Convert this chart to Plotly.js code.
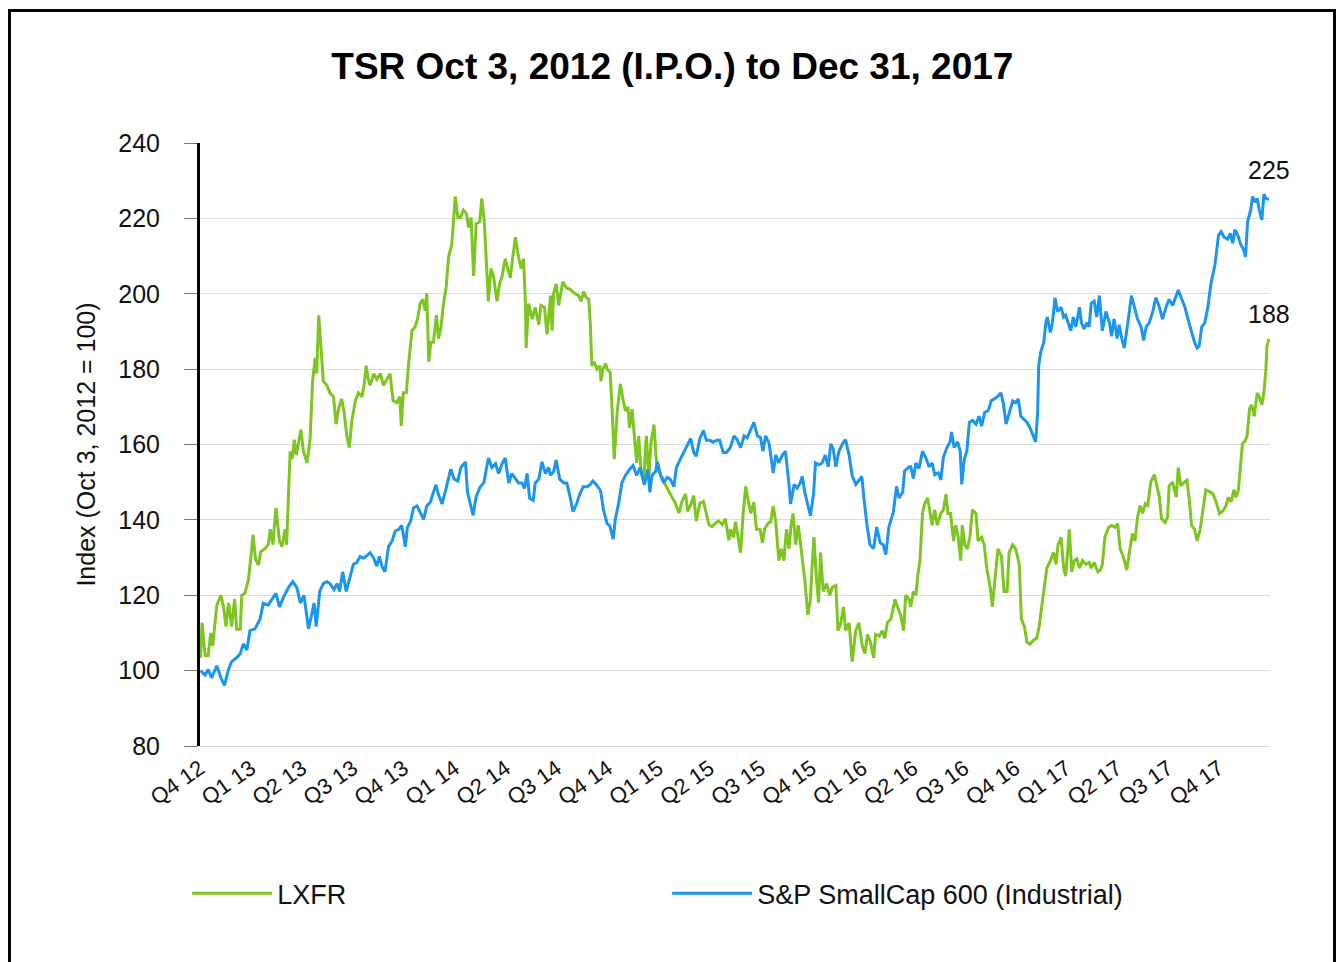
<!DOCTYPE html>
<html>
<head>
<meta charset="utf-8">
<script src="https://cdn.plot.ly/plotly-3.0.1.min.js"></script>
<style>
  html, body { margin: 0; padding: 0; background: #fff; overflow: hidden; }
  #chart { width: 1338px; height: 962px; }
  #frame { position: absolute; left: 8px; top: 9px; width: 1322px; height: 1000px;
           border: 3px solid #000; pointer-events: none; box-sizing: content-box; }
</style>
</head>
<body>
<div id="chart"></div>
<div id="frame"></div>
<script>
// Time in quarters since Oct 1, 2012 (0 = start of Q4 12, 21 = Dec 31, 2017)
const tickLabels = ["Q4 12","Q1 13","Q2 13","Q3 13","Q4 13","Q1 14","Q2 14","Q3 14","Q4 14","Q1 15","Q2 15",
                    "Q3 15","Q4 15","Q1 16","Q2 16","Q3 16","Q4 16","Q1 17","Q2 17","Q3 17","Q4 17"];

// LXFR (index, Oct 3 2012 = 100)
const lxfrX = [
 0.01,0.04,0.10,0.16,0.21,0.25,0.33,0.41,0.46,0.51,0.56,0.62,0.68,0.72,0.79,0.82,0.88,0.95,1.00,1.04,
 1.09,1.15,1.19,1.28,1.34,1.38,1.43,1.49,1.56,1.61,1.67,1.70,1.74,1.77,1.81,1.85,1.89,1.93,1.98,2.03,
 2.10,2.16,2.21,2.26,2.29,2.33,2.37,2.42,2.49,2.55,2.62,2.67,2.72,2.78,2.83,2.88,2.93,2.98,3.05,3.11,
 3.18,3.22,3.26,3.31,
 3.34,3.41,3.47,3.54,3.60,3.67,3.73,3.79,3.86,3.92,3.95,3.99,4.05,4.09,4.16,4.22,4.27,4.32,4.37,4.42,
 4.45,4.49,4.53,4.58,4.64,4.68,4.73,4.78,4.83,4.88,4.94,4.98,5.01,5.06,5.11,5.17,5.23,5.27,5.32,5.37,
 5.42,5.49,5.53,5.58,5.63,5.66,5.71,5.76,5.83,5.88,5.93,5.99,6.04,6.09,6.14,6.19,6.25,6.30,6.35,6.39,
 6.40,6.45,6.52,6.58,6.65,6.69,6.76,6.81,
 6.88,6.91,6.94,6.99,7.04,7.07,7.12,7.19,7.27,7.35,7.43,7.48,7.53,7.58,7.63,7.66,7.69,7.74,7.79,7.85,
 7.87,7.91,7.96,8.00,8.05,8.09,8.13,8.19,8.25,8.30,8.35,8.40,8.43,8.48,8.53,8.57,8.61,8.66,8.71,8.76,
 8.81,8.85,8.91,8.96,9.00,9.07,9.14,9.20,9.27,9.33,9.40,9.46,9.53,9.57,9.63,9.69,9.74,9.81,9.88,9.92,
 9.99,10.05,10.12,10.18,10.25,10.31,10.38,
 10.41,10.47,10.51,10.56,10.61,10.66,10.71,10.75,10.81,10.87,10.92,10.99,11.04,11.08,11.15,11.20,11.25,11.30,11.36,11.41,
 11.46,11.51,11.56,11.60,11.64,11.69,11.74,11.78,11.82,11.87,11.93,11.98,12.02,12.05,12.10,12.14,12.18,12.23,12.30,12.36,
 12.41,12.48,12.52,12.57,12.63,12.67,12.74,12.80,12.87,12.93,13.00,13.05,13.10,13.16,13.22,13.26,13.33,13.39,13.44,13.49,
 13.56,13.64,13.69,13.75,13.81,13.85,13.92,
 13.95,14.00,14.05,14.09,14.13,14.18,14.22,14.28,14.33,14.37,14.42,14.47,14.54,14.59,14.64,14.68,14.73,14.79,14.83,14.88,
 14.93,14.96,15.01,15.06,15.11,15.16,15.23,15.27,15.34,15.39,15.44,15.51,15.55,15.60,15.66,15.73,15.78,15.84,15.88,15.95,
 16.01,16.08,16.12,16.18,16.23,16.29,16.36,16.42,16.47,16.52,16.57,16.62,16.69,16.75,16.80,16.84,16.90,16.95,16.99,17.06,
 17.11,17.16,17.21,17.26,17.32,17.39,17.45,
 17.49,17.55,17.62,17.67,17.71,17.76,17.83,17.89,17.96,18.01,18.06,18.12,18.19,18.24,18.30,18.35,18.40,18.45,18.50,18.55,
 18.60,18.66,18.73,18.78,18.83,18.87,18.94,18.99,19.02,19.09,19.16,19.20,19.25,19.32,19.37,19.42,19.46,19.52,19.57,19.63,
 19.68,19.74,19.81,19.88,19.94,20.01,20.07,20.14,20.18,20.24,20.29,20.33,20.38,20.42,20.46,20.51,20.55,20.60,20.64,20.69,
 20.75,20.79,20.84,20.88,20.92,20.94,20.98
];
const lxfrY = [
 103.4,112.7,104,104,110,106.5,117.4,120,117,111.7,118,111.7,119,111,111,120,120.5,124,130.3,136,
 129.5,128,131.5,132.4,133.4,137.5,133.4,143.2,134.4,132.9,137.5,133.4,147.9,158.2,156.1,161.3,157.2,160.3,163.9,158.2,
 155.1,161.3,176.8,183,178.8,194.3,187.1,176.8,175.7,173.7,172.7,165.4,169.5,172.1,168.5,162.3,159.2,166.4,171.6,173.7,
 172.7,175.7,180.9,176.8,
 175.7,178.8,177.3,178.8,175.7,177.3,178.8,171.6,171.1,172.7,164.9,173.7,173.7,180.9,190.2,191.2,193.3,197.4,198.5,195.5,
 200.1,181.9,187.1,187.1,194.3,188.1,191.2,197.4,201.6,209.9,212.9,220.2,225.8,220.2,220.2,222.2,221.2,217.6,220.2,204.7,
 218.6,219.1,225.3,219.1,204.7,198,206.7,204.7,198,202.6,204.7,209.3,206.7,204.2,209.9,215,209.9,206.7,209.3,196.4,
 185.6,197.4,193.3,196.4,191.8,196.9,196.4,189.2,
 199.5,190.2,200.1,202.6,196.9,199.5,203.2,201.6,201.1,200.1,199.5,198,200.6,199,198.5,192.3,180.9,181.9,180,180.9,
 176.8,180,181.5,179.7,179.2,168.9,156.1,168.9,176.1,172.1,168.9,169.9,164.4,169.4,162.3,155.1,162.3,152.3,150.3,162.3,
 151.3,160.2,165.3,155.1,153,151.3,149.1,147.5,145.9,144.4,141.8,144.9,146.9,142.3,143.9,146.4,139.7,144.4,144.9,142.8,
 138.7,138.2,139.2,139.7,138.7,140.3,134.6,
 137.5,135.4,139.5,135.4,131.3,141.7,148.9,145.8,141.7,144.7,137.5,137.5,133.9,137.5,139.1,139.5,143.7,139.5,129.2,132.3,
 129.2,137.5,132.3,138.6,141.7,133.4,138.6,134.4,130.3,124.1,114.8,118.9,129.2,135.4,124.1,118,131.3,121,123.1,120,
 122.1,122.6,110.6,112.2,116.9,110.6,112.7,102.4,110.6,112.7,106.5,104.5,109.6,107.5,103.4,109.6,109.1,110.6,108.6,112.7,
 113.7,118.9,116.9,114.8,110.6,120,118.9,
 116.9,121,120,125.6,129.2,141.7,144.2,145.8,141.2,138.6,142.7,138.6,141.7,142.7,146.8,141.7,141.7,134.4,138.6,135.4,
 129.2,138.6,133.4,132.3,135.4,142.7,141.7,134.4,135.4,133.4,127.2,122.1,116.9,123.1,132.3,130.3,121,121,131.3,133.4,
 132.3,128.2,113.7,111.7,107.5,107,108.1,108.6,111.7,116.9,122.1,127.2,129.2,131.3,128.2,133.4,135.4,127.2,125.1,137.5,
 126.2,129.2,129.7,127.2,129.2,128.2,128.7,
 127.2,128.7,126.2,126.7,128.2,135.4,138,138.5,138,139,132.3,130.3,126.7,131.3,136.4,134.4,140.7,143.8,141.7,144.3,
 143.8,150,152,149,146,140.3,139.3,140.7,149,150,146,153.9,149,150,150.5,144.8,138.5,137.5,134.4,137.5,
 142.8,148,147.5,146.9,144.8,141.7,142.3,143.8,146,144.8,148,146,148,154.1,160.3,160.9,162.3,169.6,170.5,167.5,
 173.7,172.7,170.5,173.7,180,186.1,188
];

// S&P SmallCap 600 (Industrial)
const spX = [
 0.01,0.10,0.16,0.23,0.33,0.41,0.48,0.56,0.62,0.72,0.79,0.85,0.92,0.98,1.08,1.18,1.24,1.34,1.41,1.49,
 1.56,1.64,1.74,1.82,1.90,1.97,2.04,2.13,2.19,2.24,2.28,2.35,2.42,2.49,2.55,2.63,2.69,2.74,2.80,2.87,
 2.91,3.01,3.08,3.14,3.21,
 3.34,3.41,3.47,3.52,3.57,3.63,3.70,3.77,3.83,3.90,3.96,4.03,4.07,4.13,4.19,4.26,4.32,4.39,4.45,4.52,
 4.58,4.63,4.68,4.75,4.81,4.88,4.92,4.99,5.06,5.12,5.21,5.25,5.30,5.36,5.42,5.50,5.57,5.62,5.66,5.73,
 5.80,5.86,5.93,5.99,6.06,6.12,6.19,6.25,6.32,6.37,6.42,6.47,6.54,6.58,6.65,6.71,6.78,6.84,
 6.88,6.94,6.99,7.06,7.14,7.20,7.27,7.32,7.39,7.45,7.52,7.60,7.65,7.71,7.78,7.86,7.92,7.99,8.04,8.11,
 8.15,8.22,8.28,8.35,8.43,8.50,8.57,8.64,8.72,8.79,8.83,8.87,8.94,8.98,9.04,9.10,9.17,9.23,9.30,9.35,
 9.42,9.48,9.56,9.63,9.69,9.74,9.81,9.88,9.94,10.01,10.07,10.14,10.20,10.27,10.33,
 10.41,10.48,10.54,10.61,10.68,10.74,10.81,10.87,10.94,11.00,11.05,11.10,11.17,11.25,11.30,11.36,11.43,11.49,11.56,11.59,
 11.66,11.72,11.78,11.82,11.87,11.93,11.98,12.04,12.08,12.15,12.21,12.27,12.33,12.38,12.43,12.48,12.54,12.61,12.67,12.74,
 12.80,12.87,12.93,12.99,13.03,13.09,13.15,13.22,13.28,13.35,13.41,13.46,13.52,13.61,13.67,13.72,13.79,13.83,13.92,
 13.95,14.00,14.05,14.11,14.18,14.24,14.31,14.37,14.42,14.49,14.54,14.59,14.66,14.72,14.75,14.80,14.87,14.92,14.95,15.00,
 15.05,15.10,15.16,15.23,15.29,15.34,15.40,15.47,15.53,15.59,15.65,15.72,15.77,15.82,15.88,15.95,16.01,16.06,16.11,16.18,
 16.23,16.29,16.36,16.40,16.44,16.46,16.50,16.56,16.60,16.63,16.69,16.73,16.78,16.83,16.90,16.95,16.99,17.04,17.09,17.14,
 17.19,17.26,17.30,17.35,17.41,17.45,
 17.49,17.55,17.60,17.65,17.71,17.78,17.85,17.89,17.94,18.00,18.04,18.09,18.14,18.21,18.28,18.34,18.40,18.47,18.52,18.57,
 18.63,18.70,18.76,18.83,18.89,18.96,19.02,19.09,19.16,19.20,19.27,19.33,19.40,19.45,19.52,19.57,19.61,19.66,19.72,19.78,
 19.84,19.92,19.99,20.04,20.10,20.17,20.22,20.27,20.31,20.37,20.43,20.48,20.52,20.56,20.62,20.66,20.71,20.75,20.79,20.84,
 20.88,20.92,20.98
];
const spY = [
 100,98.8,100.3,98.1,101.3,98.1,96.1,100.3,102.4,103.4,104.5,107.1,105.5,110.6,111.1,113.7,117.9,117.4,118.9,120.5,
 116.9,119.5,122.1,123.6,122.1,117.9,120,111.1,114.8,117.9,111.7,121,123.1,123.6,123.1,121.5,123.1,121,126.2,121,
 123.1,128.2,128.7,130.3,129.8,
 131.3,129.8,127.7,130.3,127.7,126.2,132.9,134.4,137,137.5,138.5,132.9,138,139.5,143.2,143.7,142.2,140.1,143.7,144.7,
 147.3,149.3,146.7,144.2,147.3,150.8,153.4,150.8,150.3,153.9,155.4,147.3,144.7,141.2,146.2,148.8,149.8,153.9,156.4,153.9,
 154.9,152.3,154.9,156.4,149.8,152.3,150.8,149.8,149.8,148.3,152.3,145.7,145.2,149.8,150.8,155.4,152.3,153.9,
 151.8,152.8,155.9,150.8,149.8,149.8,145.7,142.2,144.2,146.7,148.8,148.8,149.3,150.3,149.3,147.8,142.6,139,138.5,134.9,
 140.1,144.7,149.8,151.8,153.4,154.4,151.8,153.9,149.3,153.4,147.3,151.8,152.8,155.4,151.8,149.8,151.3,150.8,148.8,153.9,
 155.9,157.5,159.5,161.6,157.9,156.9,161.6,163.7,161.1,161.1,160.6,161.1,161.1,157.9,157.9,
 159.2,162.3,161.3,159.2,162.3,161.8,163.8,165.9,162.3,161.8,158.2,162.3,160.2,152.4,157.2,155.1,157.2,158.2,149.4,144.2,
 149.4,148.4,149.8,151.5,147.3,143.7,141.1,146.8,155.1,154.6,155.1,157.2,154.1,160.2,158.7,154.1,158.2,160.2,161.3,157.2,
 151.7,149.4,150.6,151.5,145.8,138.6,133.4,132.4,138.1,133.9,133.4,130.8,138.1,142.2,148.9,145.8,147.3,153,154.1,
 154.1,151,155.1,153.6,158.2,156.6,154.1,155.1,152,152.5,150.6,156.6,159.2,160.7,163.3,159.2,160.7,158.2,149.4,156.1,
 158.2,165.9,166.4,165.4,167.5,164.9,168.5,169,171.6,172.1,172.7,173.7,170.6,165.4,168,171.6,171.1,172.1,167.5,166.4,
 165.9,164.4,162.3,160.7,168.5,180.9,184.5,187.1,192.3,193.8,189.7,192.3,198.9,195.3,196.4,193.8,194.3,192.3,190.2,193.8,
 191.2,196.4,192.3,190.7,192.3,191.2,
 197.4,198,193.8,199.5,190.2,195.3,192.3,188.7,193.3,188.1,191.8,188.1,185.6,192.3,199.5,196.4,193.3,191.2,187.6,191.2,
 192.3,195.3,199,196.4,193.3,196.4,198.5,196.9,199.5,201,198.5,196.4,192.8,190.2,187.1,185.6,186.1,191.2,192.3,196.4,
 202.6,207.7,215.5,216.5,215,214.5,216,213.4,217,215.5,212.9,211.8,209.8,219.1,222.2,225.8,224.3,225.3,222.2,219.6,
 226.4,225.3,225
];

const seriesNames = ["LXFR", "S&P SmallCap 600 (Industrial)"];
const seriesColors = ["#7DC621", "#1B95EE"];

const FONT = "Liberation Sans, Arial, Helvetica, sans-serif";
const tickVals = tickLabels.map((_, i) => i);

const traces = [
  { x: lxfrX, y: lxfrY, name: seriesNames[0], type: "scatter", mode: "lines",
    line: { color: seriesColors[0], width: 3 }, hoverinfo: "skip" },
  { x: spX, y: spY, name: seriesNames[1], type: "scatter", mode: "lines",
    line: { color: seriesColors[1], width: 3 }, hoverinfo: "skip" }
];

const lastL = lxfrY[lxfrY.length - 1], lastS = spY[spY.length - 1];

const layout = {
  width: 1338, height: 962,
  paper_bgcolor: "#fff", plot_bgcolor: "#fff",
  margin: { l: 200, r: 68, t: 143, b: 216 },
  font: { family: FONT, color: "#111" },
  title: { text: "<b>TSR Oct 3, 2012 (I.P.O.) to Dec 31, 2017</b>",
           font: { family: FONT, size: 37, color: "#000" },
           x: 0.5025, xanchor: "center", xref: "container",
           y: 1 - 66 / 962, yanchor: "middle", yref: "container" },
  xaxis: {
    range: [0, 21], tickmode: "array", tickvals: tickVals, ticktext: tickLabels,
    tickangle: -35, tickfont: { size: 22, family: FONT, color: "#111" },
    showgrid: false, zeroline: false, showline: true, linecolor: "#d9d9d9", linewidth: 1,
    ticks: "", fixedrange: true
  },
  yaxis: {
    range: [80, 240], dtick: 20, tick0: 80,
    tickfont: { size: 25, family: FONT, color: "#111" },
    showgrid: true, gridcolor: "#dcdcdc", gridwidth: 1, zeroline: false,
    showline: true, linecolor: "#000", linewidth: 3,
    ticks: "outside", ticklen: 13, tickcolor: "#777", tickwidth: 1,
    ticklabelstandoff: 19,
    title: { text: "Index (Oct 3, 2012 = 100)", font: { size: 25, family: FONT, color: "#111" }, standoff: 16 },
    fixedrange: true
  },
  showlegend: true,
  legend: {
    orientation: "h", x: -0.012, xanchor: "left", y: -0.245, yanchor: "middle",
    font: { size: 27, family: FONT, color: "#111" },
    itemwidth: 80, entrywidth: 385, entrywidthmode: "pixels",
    bgcolor: "rgba(0,0,0,0)", traceorder: "normal"
  },
  annotations: [
    { x: spX[spX.length - 1], y: lastS, xref: "x", yref: "y", text: String(Math.round(lastS)),
      showarrow: false, xanchor: "center", yanchor: "bottom", yshift: 14,
      font: { size: 25, family: FONT, color: "#111" } },
    { x: lxfrX[lxfrX.length - 1], y: lastL, xref: "x", yref: "y", text: String(Math.round(lastL)),
      showarrow: false, xanchor: "center", yanchor: "bottom", yshift: 9,
      font: { size: 25, family: FONT, color: "#111" } }
  ]
};

Plotly.newPlot("chart", traces, layout, { displayModeBar: false, staticPlot: true });
</script>
</body>
</html>
